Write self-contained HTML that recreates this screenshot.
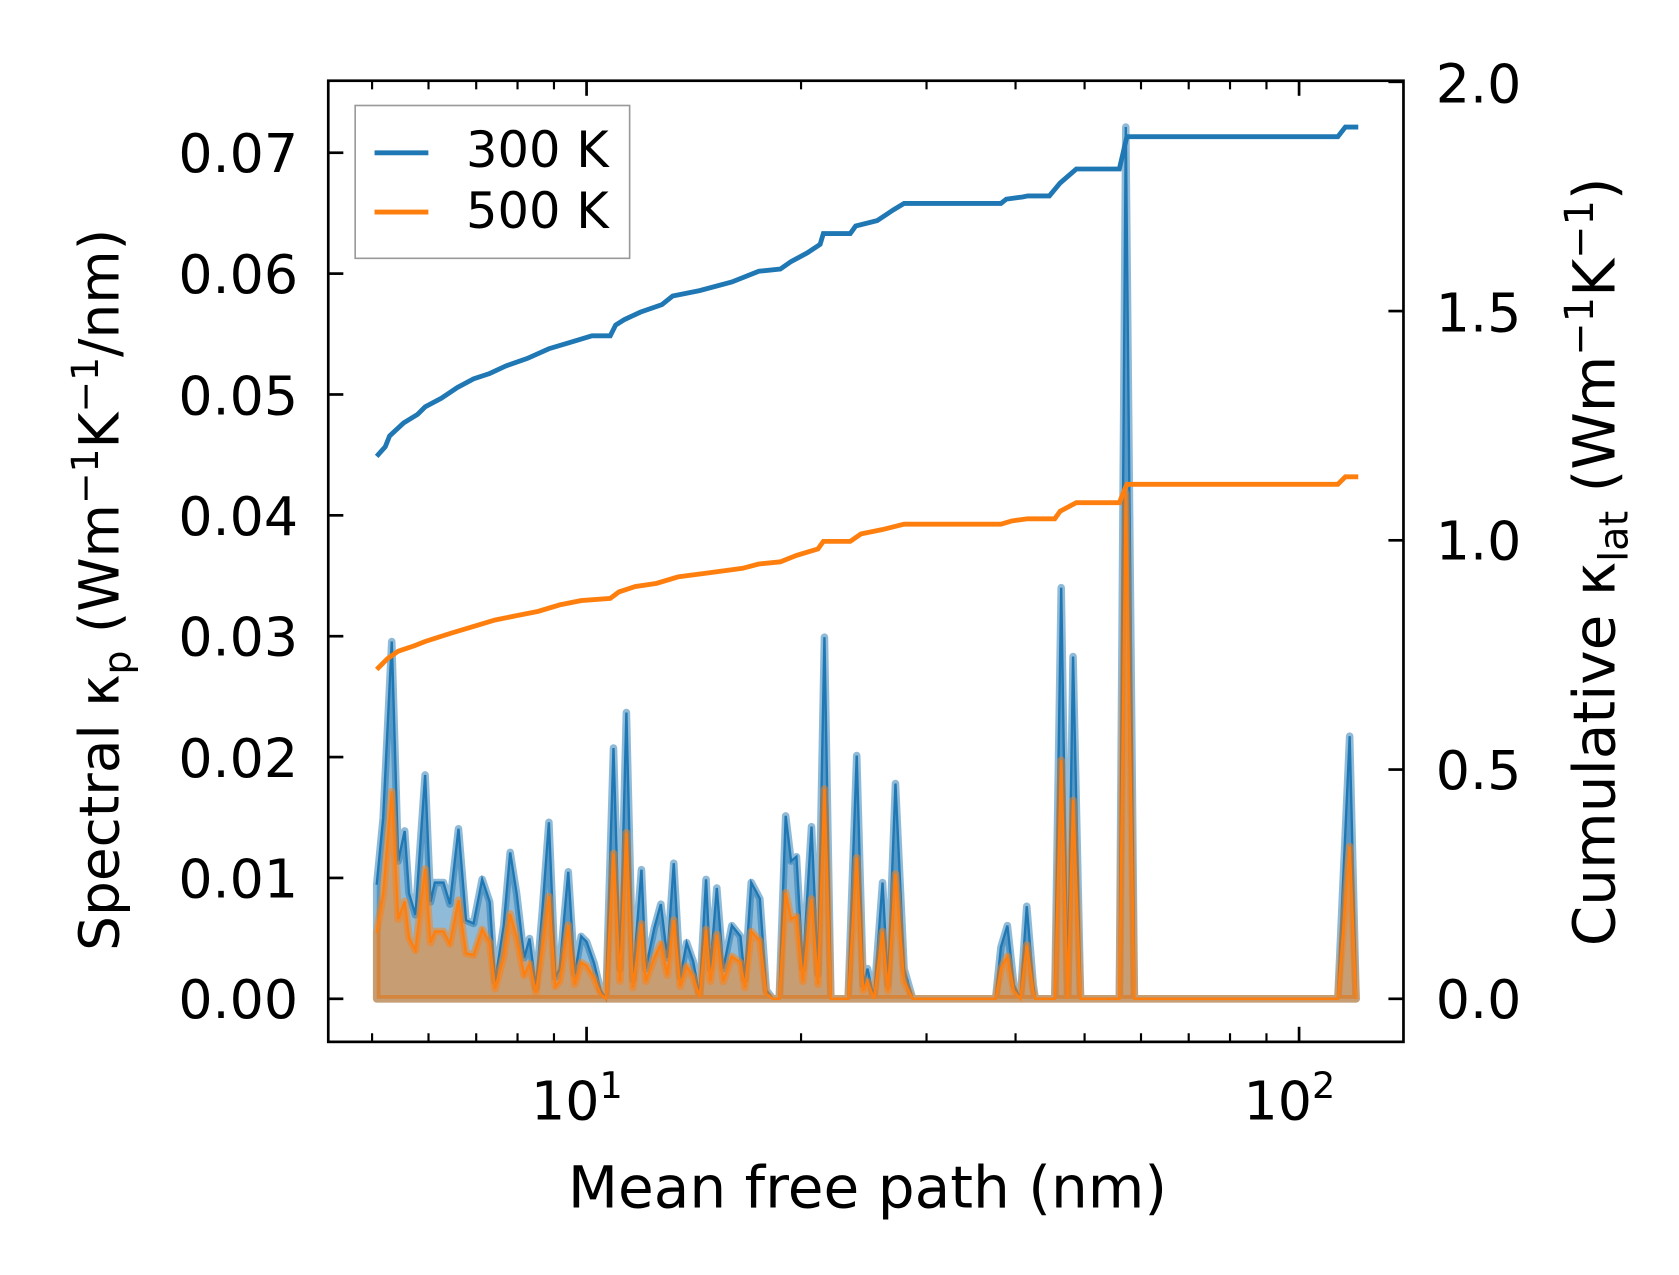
<!DOCTYPE html>
<html><head><meta charset="utf-8"><style>
html,body{margin:0;padding:0;background:#fff;}
svg{display:block;font-family:"DejaVu Sans","Liberation Sans",sans-serif;}
</style></head><body>
<svg id="s" width="1679" height="1275" viewBox="0 0 1560 1184.6" xmlns="http://www.w3.org/2000/svg">
<rect width="1560" height="1184.6" fill="#fff"/>
<g id="plot"></g>
<g fill="#000" font-size="50">
<text x="277" y="946" text-anchor="end">0.00</text>
<text x="277" y="834" text-anchor="end">0.01</text>
<text x="277" y="722" text-anchor="end">0.02</text>
<text x="277" y="609" text-anchor="end">0.03</text>
<text x="277" y="497" text-anchor="end">0.04</text>
<text x="277" y="385" text-anchor="end">0.05</text>
<text x="277" y="272" text-anchor="end">0.06</text>
<text x="277" y="160" text-anchor="end">0.07</text>
<text x="1334" y="946">0.0</text>
<text x="1334" y="733">0.5</text>
<text x="1334" y="520">1.0</text>
<text x="1334" y="308">1.5</text>
<text x="1334" y="95">2.0</text>
<text x="536" y="1040" text-anchor="middle">10<tspan font-size="34" dy="-20">1</tspan></text>
<text x="1198" y="1040" text-anchor="middle">10<tspan font-size="34" dy="-20">2</tspan></text>
<text x="806" y="1122" text-anchor="middle" font-size="54">Mean free path (nm)</text>
<text transform="translate(110,548) rotate(-90)" text-anchor="middle" font-size="51">Spectral κ<tspan font-size="35" dy="11">p</tspan><tspan dy="-11"> (Wm</tspan><tspan font-size="35" dy="-19">−1</tspan><tspan dy="19">K</tspan><tspan font-size="35" dy="-19">−1</tspan><tspan dy="19">/nm)</tspan></text>
<text transform="translate(1500,522) rotate(-90)" text-anchor="middle" font-size="54">Cumulative κ<tspan font-size="37" dy="12">lat</tspan><tspan dy="-12"> (Wm</tspan><tspan font-size="37" dy="-20">−1</tspan><tspan dy="20">K</tspan><tspan font-size="37" dy="-20">−1</tspan><tspan dy="20">)</tspan></text>
</g>
<g>
<rect x="330" y="98" width="255" height="142" fill="#fff" fill-opacity="0.8" stroke="#999" stroke-width="1.5"/>
<line x1="348" y1="142" x2="398" y2="142" stroke="#1f77b4" stroke-width="4.5"/>
<line x1="348" y1="197" x2="398" y2="197" stroke="#ff7f0e" stroke-width="4.5"/>
<text x="433" y="155" font-size="46">300 K</text>
<text x="433" y="212" font-size="46">500 K</text>
</g>
</svg>
<script>
var NS="http://www.w3.org/2000/svg",g=document.getElementById('plot');
function el(t,a){var e=document.createElementNS(NS,t);for(var k in a)e.setAttribute(k,a[k]);g.appendChild(e);return e;}
var B=928;
var sp=[350,822,356,760,364,596,370,800,376,772,380,830,386,850,395,720,400,838,404,820,412,820,418,840,426,770,433,855,440,858,448,817,455,838,460,912,468,860,474,792,480,830,487,890,492,872,498,918,504,845,510,764,516,908,520,900,528,810,534,905,540,870,545,875,552,895,558,920,563,928,570,695,576,900,582,662,588,910,596,808,600,900,608,862,614,840,620,890,626,802,632,908,638,876,644,893,650,925,656,817,660,900,666,825,672,900,680,860,688,870,692,910,698,820,706,835,712,920,718,928,724,928,730,758,735,800,740,796,746,900,754,768,760,905,766,592,772,928,788,928,796,702,802,915,806,900,812,928,820,820,825,915,832,728,840,900,848,928,925,928,930,880,936,860,942,915,948,928,954,842,960,915,962,928,980,928,986,546,992,928,997,610,1004,928,1040,928,1046,118,1054,928,1243,928,1254,684,1260,928];
function pts(arr,f){var s=[];for(var i=0;i<arr.length;i+=2)s.push(arr[i]+','+(B-(B-arr[i+1])*f).toFixed(1));return s;}
function spectral(col,f){var p=pts(sp,f);var d='M350,'+B+' L'+p.join(' L')+' L1260,'+B+' Z';
el('path',{d:d,fill:col,'fill-opacity':0.5,stroke:col,'stroke-opacity':0.5,'stroke-width':7,'stroke-linejoin':'round'});
el('polyline',{points:p.join(' '),fill:'none',stroke:col,'stroke-width':2.2});}
spectral('#1f77b4',1);spectral('#ff7f0e',0.58);
var c3=[350,424,358,415,362,405,375,393,388,385,395,378,410,370,425,360,440,352,455,347,470,340,490,333,510,324,530,318,550,312,567,312,572,302,580,297,595,290,615,283,625,275,650,270,680,262,705,252,725,250,735,243,750,235,762,227,765,217,790,217,795,210,815,205,830,195,840,189,930,189,935,185,950,183,955,182,975,182,985,170,1000,157,1040,157,1047,127,1243,127,1250,118,1262,118];
var c5=[350,622,360,612,370,605,385,600,395,596,420,588,440,582,460,576,480,572,500,568,520,562,540,558,567,556,575,550,590,545,610,542,630,536,660,532,690,528,705,524,725,522,740,516,760,510,765,503,790,503,800,496,820,492,840,487,930,487,940,484,955,482,980,482,985,475,1000,467,1040,467,1047,450,1243,450,1250,443,1262,443];
function line(a,c){var s=[];for(var i=0;i<a.length;i+=2)s.push(a[i]+','+a[i+1]);el('polyline',{points:s.join(' '),fill:'none',stroke:c,'stroke-width':4.5});}
line(c3,'#1f77b4');line(c5,'#ff7f0e');
el('rect',{x:305,y:75,width:999,height:893,fill:'none',stroke:'#000','stroke-width':2.5});
function tk(x1,y1,x2,y2,w){el('line',{x1:x1,y1:y1,x2:x2,y2:y2,stroke:'#000','stroke-width':w||2.5});}
for(var i=0;i<8;i++){var y=B-112.3*i;tk(305,y,319,y);}
for(var i=0;i<5;i++){var y=B-213*i;tk(1290,y,1304,y);}
[545,1207].forEach(function(x){tk(x,968,x,954);tk(x,75,x,89);});
[5,6,7,8,9,20,30,40,50,60,70,80,90].forEach(function(v){var x=545+662*Math.log10(v/10);tk(x,968,x,960,2);tk(x,75,x,83,2);});
</script>
</body></html>
